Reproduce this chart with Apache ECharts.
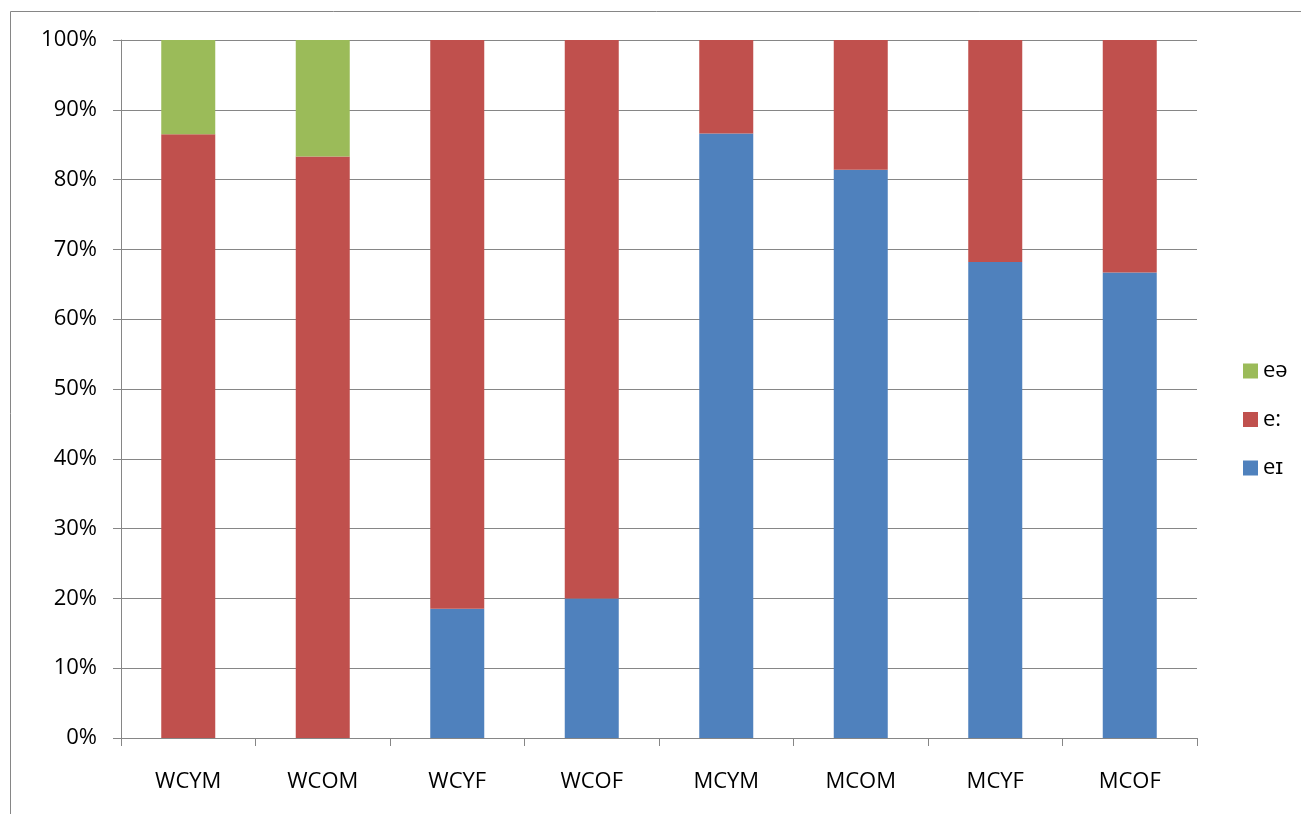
<!DOCTYPE html>
<html>
<head>
<meta charset="utf-8">
<script src="https://cdn.jsdelivr.net/npm/echarts@6/dist/echarts.min.js"></script>
<style>
html,body{margin:0;padding:0;background:#fff;}
#chart{width:1301px;height:814px;}
</style>
</head>
<body>
<div id="chart"></div>
<script>
const categories = ['WCYM','WCOM','WCYF','WCOF','MCYM','MCOM','MCYF','MCOF'];
const seriesNames = ['eɪ','e:','eə'];
const eiValues = [0, 0, 18.5, 20.0, 86.6, 81.4, 68.2, 66.7];
const eColonValues = [86.5, 83.3, 81.5, 80.0, 13.4, 18.6, 31.8, 33.3];
const eSchwaValues = [13.5, 16.7, 0, 0, 0, 0, 0, 0];
const yTicks = [0,10,20,30,40,50,60,70,80,90,100];

const chart = echarts.init(document.getElementById('chart'));
const fontFamily = '"Open Sans", "Liberation Sans", "DejaVu Sans", sans-serif';
const gray = '#868686';
const colors = ['#4F81BD','#C0504D','#9BBB59'];
const data = [eiValues, eColonValues, eSchwaValues];

chart.setOption({
  animation: false,
  graphic: [{
    type: 'rect',
    shape: {x: 10.5, y: 11.5, width: 1400, height: 900},
    style: {fill: 'none', stroke: gray, lineWidth: 1},
    silent: true
  }],
  grid: {left: 121, right: 104, top: 40, bottom: 76},
  legend: {
    orient: 'vertical',
    left: 1238,
    top: 355,
    itemWidth: 15,
    itemHeight: 15,
    itemGap: 26.5,
    data: [seriesNames[2], seriesNames[1], seriesNames[0]],
    textStyle: {fontFamily, fontSize: 22, lineHeight: 20, color: '#000'},
    icon: 'rect'
  },
  xAxis: {
    type: 'category',
    data: categories,
    axisLine: {lineStyle: {color: gray, width: 1}},
    axisTick: {show: true, length: 8, lineStyle: {color: gray}},
    axisLabel: {fontFamily, fontSize: 22, color: '#000', margin: 33}
  },
  yAxis: {
    type: 'value',
    min: yTicks[0],
    max: yTicks[yTicks.length-1],
    interval: 10,
    axisLine: {show: true, lineStyle: {color: gray, width: 1}},
    axisTick: {show: true, length: 8, lineStyle: {color: gray}},
    splitLine: {lineStyle: {color: gray, width: 1}},
    axisLabel: {fontFamily, fontSize: 22, color: '#000', margin: 24, formatter: v => v + '%'}
  },
  series: seriesNames.map((n, i) => ({
    name: n,
    type: 'bar',
    stack: 'total',
    barWidth: 54,
    itemStyle: {color: colors[i]},
    data: data[i]
  }))
});
</script>
</body>
</html>
